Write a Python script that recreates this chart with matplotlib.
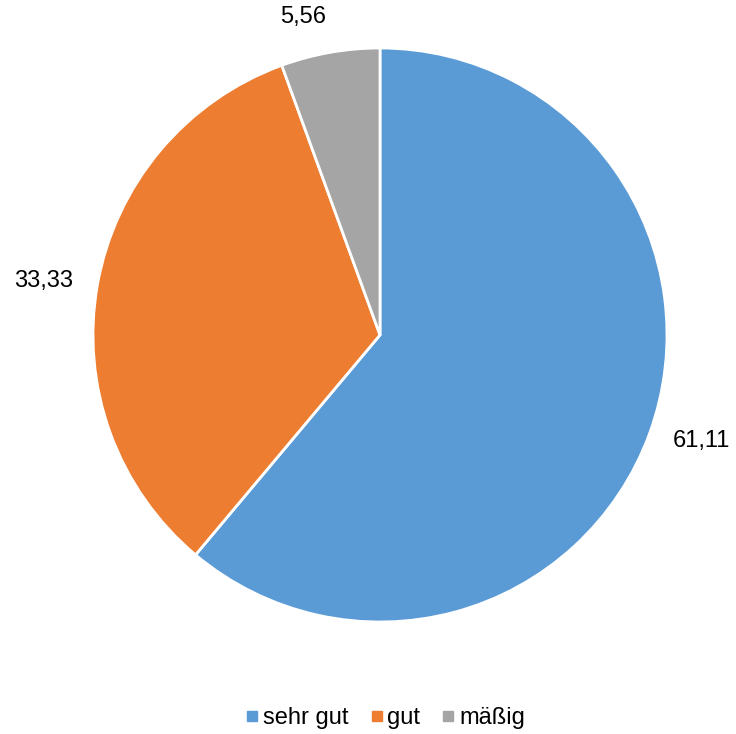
import numpy as np
import matplotlib
matplotlib.use("Agg")
from matplotlib import pyplot as plt
from matplotlib.lines import Line2D

plt.rcParams["font.family"] = ["Liberation Sans", "DejaVu Sans"]

categories = ["sehr gut", "gut", "mäßig"]
values = [61.11, 33.33, 5.56]
value_labels = ["61,11", "33,33", "5,56"]
colors = ["#5B9BD5", "#ED7D31", "#A5A5A5"]

W, H = 736, 734
cx, cy, r = 380, 335, 287

fig = plt.figure(figsize=(W / 100, H / 100), dpi=100)
ax = fig.add_axes([0, 0, 1, 1])

wedges, _ = ax.pie(
    values,
    colors=colors,
    startangle=90,
    counterclock=False,
    radius=1,
    wedgeprops={"edgecolor": "white", "linewidth": 2},
)

# labels outside the pie, anchored on the side facing the slice (like Excel)
for w, lab in zip(wedges, value_labels):
    mid = np.deg2rad((w.theta1 + w.theta2) / 2)
    c, s = np.cos(mid), np.sin(mid)
    d = 1.085
    ha = "left" if c > 0.1 else ("right" if c < -0.1 else "center")
    va = "bottom" if s > 0.5 else ("top" if s < -0.5 else "center")
    ax.text(c * d, s * d, lab, ha=ha, va=va, fontsize=17, color="#000000")

# pie resets limits, so set them afterwards
ax.set_xlim(-cx / r, (W - cx) / r)
ax.set_ylim(-(H - cy) / r, cy / r)
ax.set_aspect("equal", adjustable="datalim")
ax.axis("off")

handles = [Line2D([], [], marker="s", linestyle="", color=c, markersize=7) for c in colors]
fig.legend(handles, categories, loc="center", bbox_to_anchor=(385 / W, 1 - 718 / H),
           ncol=3, frameon=False, fontsize=17, handlelength=0.6, handletextpad=0.15,
           columnspacing=0.9)

plt.savefig("out.png", dpi=100)
